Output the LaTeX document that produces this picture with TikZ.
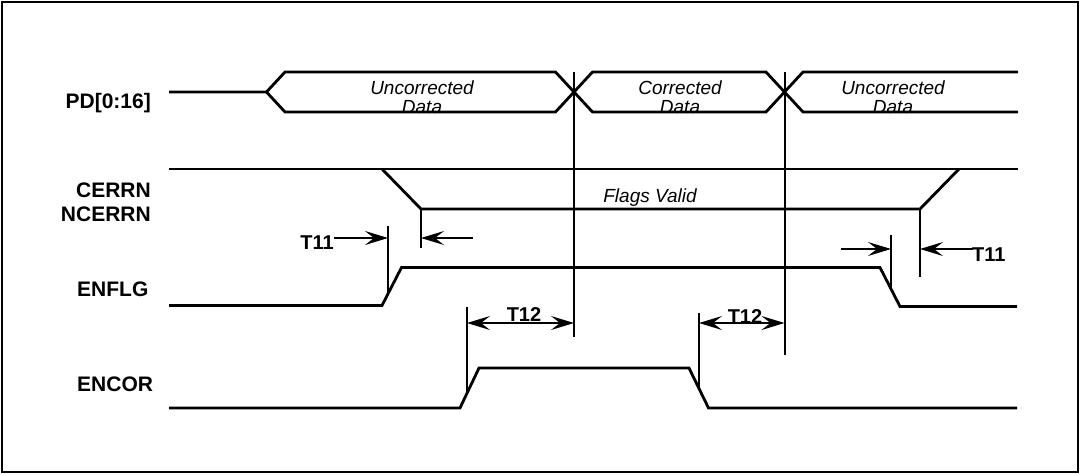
\documentclass[tikz,border=0pt]{standalone}
\usepackage{fontspec}
\setmainfont{Liberation Sans}
\usetikzlibrary{arrows.meta}
\begin{document}
\begin{tikzpicture}[x=1pt,y=-1pt,
  sig/.style={line width=2.8pt, line join=miter, line cap=butt},
  refline/.style={line width=2pt},
  dimline/.style={line width=1.7pt},
  onehead/.style={dimline, arrows={-Stealth[length=23pt,width=14pt,inset=9pt]}},
  twohead/.style={dimline, arrows={Stealth[length=23pt,width=14pt,inset=9pt]-Stealth[length=23pt,width=14pt,inset=9pt]}},
  lab/.style={font=\fontsize{21}{22}\selectfont\bfseries, inner sep=0pt, anchor=base east},
  dat/.style={font=\fontsize{19}{20}\selectfont\itshape, inner sep=0pt, anchor=base},
  tm/.style={font=\fontsize{20}{20}\selectfont\bfseries, inner sep=0pt, anchor=base}]
\useasboundingbox (0,0) rectangle (1081,474);
\draw[line width=1.5pt] (2,2) rectangle (1078,472);

% signal labels
\node[lab] (lpd) at (151,108) {PD[0:16]};
\node[lab] (lcerr) at (151,197) {CERRN};
\node[lab] (lncerr) at (151,221) {NCERRN};
\node[lab, anchor=base west] (lenflg) at (77,296) {ENFLG};
\node[lab, anchor=base west] (lencor) at (77,391.5) {ENCOR};

% PD bus
\coordinate (pdS) at (169,92);
\coordinate (pdP) at (266.5,92);
\draw[sig] (pdS) -- (pdP) -- (285,72) -- (555.5,72) -- (592.5,112) -- (766,112) -- (803,72) -- (1018,72);
\draw[sig] (pdP) -- (285,112) -- (555.5,112) -- (592.5,72) -- (766,72) -- (803,112) -- (1018,112);
\node[dat] (u1a) at (422,94.5) {Uncorrected};
\node[dat] (u1b) at (422,113) {Data};
\node[dat] (c1a) at (680,94.5) {Corrected};
\node[dat] (c1b) at (680,113) {Data};
\node[dat] (u2a) at (893,94.5) {Uncorrected};
\node[dat] (u2b) at (893,113) {Data};

% CERRN / NCERRN
\coordinate (cfall) at (421,209);
\coordinate (crise) at (920,209);
\draw[sig] (169,169) -- (1018,169);
\draw[sig] (382,169) -- (cfall) -- (crise) -- (959,169);
\node[dat] (fv) at (650,202) {Flags Valid};

% ENFLG
\coordinate (erise) at (388,293);
\coordinate (efall) at (891,289);
\draw[sig] (169,305.5) -- (382,305.5) -- (401.5,267.5) -- (880,267.5) -- (900,306.5) -- (1017,306.5);

% ENCOR
\coordinate (nrise) at (467,393);
\coordinate (nfall) at (699,388);
\draw[sig] (169,408) -- (460,408) -- (479,368) -- (689,368) -- (708.5,408) -- (1017,408);

% reference lines
\coordinate (xAend) at (574,337);
\coordinate (xBend) at (784.5,355);
\draw[refline] (574,72) -- (xAend);
\draw[refline] (784.5,72) -- (xBend);
\draw[refline] (cfall) -- (421,248);
\draw[refline] (crise) -- (920,277);
\draw[refline] (388,226) -- (erise);
\draw[refline] (891,235) -- (efall);
\draw[refline, line width=2.6pt] (467,307) -- (nrise);
\draw[refline, line width=2.6pt] (699,313) -- (nfall);

% T11 left
\node[tm, anchor=base east] (t11a) at (334,249) {T11};
\draw[onehead] (334,238) -- (388,238);
\draw[onehead] (473,238) -- (421,238);

% T11 right
\node[tm, anchor=base west] (t11b) at (972,261) {T11};
\draw[onehead] (841,249) -- (891,249);
\draw[onehead] (973,249) -- (920,249);

% T12 left
\draw[twohead] (467,323) -- (574,323);
\node[tm] (t12a) at (524,321) {T12};

% T12 right
\draw[twohead] (699,323) -- (784.5,323);
\node[tm] (t12b) at (745,323) {T12};
\end{tikzpicture}
\end{document}
